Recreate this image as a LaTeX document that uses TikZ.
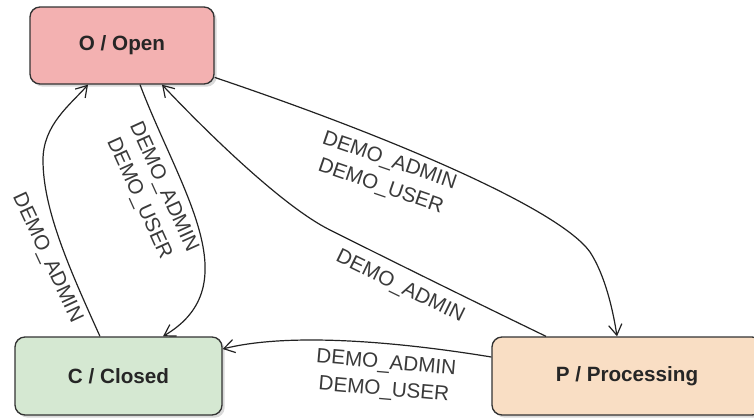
\documentclass[tikz,border=0pt]{standalone}
\usepackage{fontspec}
\setmainfont{Liberation Sans}
\usetikzlibrary{arrows.meta,shadows}
\definecolor{openfill}{HTML}{F3B1B1}
\definecolor{closedfill}{HTML}{D5E8D2}
\definecolor{procfill}{HTML}{F9DEC4}
\definecolor{edgecol}{HTML}{222222}
\definecolor{labcol}{HTML}{3A3A3A}
\definecolor{bordercol}{HTML}{333333}
\begin{document}
\begin{tikzpicture}[x=0.75pt,y=-0.75pt,
  state/.style={draw=bordercol, line width=1pt, rounded corners=7.5pt,
    font=\fontsize{15.5}{18}\selectfont\bfseries, text=black!85,
    drop shadow={shadow xshift=2pt,shadow yshift=-2pt,opacity=0.3}},
  trans/.style={draw=edgecol, line width=0.9pt, -{Straight Barb[length=8pt,width=10pt]}},
  lab/.style={font=\fontsize{15.5}{20.2}\selectfont, text=labcol, align=center, inner sep=0pt}]
\useasboundingbox (0,0) rectangle (754,418);
\clip (0,0) rectangle (754,418);

\node[state, fill=openfill, minimum width=138pt, minimum height=57.75pt] (O) at (122,45.5) {O / Open};
\node[state, fill=closedfill, minimum width=155.25pt, minimum height=58.5pt] (C) at (118.5,376) {C / Closed};
\node[state, fill=procfill, minimum width=202.5pt, minimum height=58.5pt] (P) at (627,376) {P / Processing};

% Open -> Processing
\draw[trans] (O.-19) .. controls (400,140) and (560,210) .. (590,252)
  .. controls (605,275) and (613,310) .. ([xshift=-7.5pt]P.north);
% Processing -> Open
\draw[trans] ([xshift=-60.75pt]P.north) .. controls (475,302) and (400,265) .. (330,230)
  .. controls (280,205) and (200,125) .. ([xshift=30pt]O.south);
% Open -> Closed
\draw[trans] ([xshift=13.5pt]O.south) .. controls (180,190) and (250,285) .. ([xshift=33.4pt]C.north);
% Closed -> Open
\draw[trans] ([xshift=-13.9pt]C.north) .. controls (70,270) and (43,210) .. (43,160)
  .. controls (43,125) and (70,105) .. ([xshift=-25.5pt]O.south);
% Processing -> Closed
\draw[trans] ([yshift=14.25pt]P.west) .. controls (400,342) and (290,332) .. ([yshift=20.25pt]C.east);

\node[lab, rotate=-19] (l1) at (385,174) {DEMO\_ADMIN\\DEMO\_USER};
\node[lab, rotate=-26] (l2) at (400,287) {DEMO\_ADMIN};
\node[lab, rotate=-65.6] (l3) at (151,193) {DEMO\_ADMIN\\DEMO\_USER};
\node[lab, rotate=-65] (l4) at (47,258) {DEMO\_ADMIN};
\node[lab, rotate=-5] (l5) at (385,377) {DEMO\_ADMIN\\DEMO\_USER};
\end{tikzpicture}
\end{document}
